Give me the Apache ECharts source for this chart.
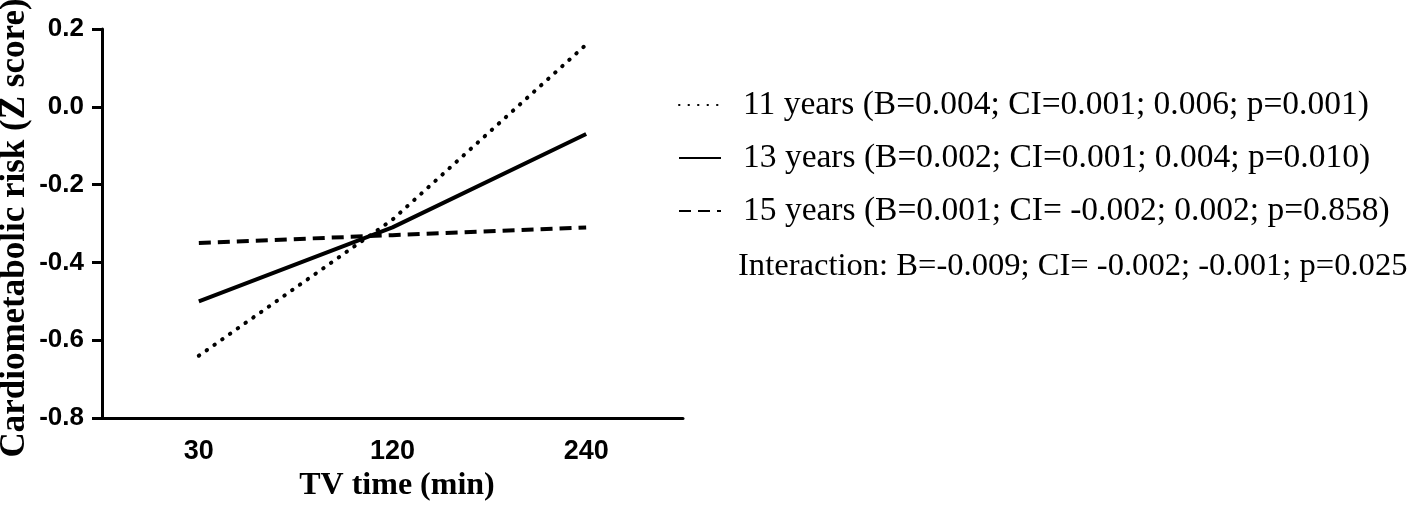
<!DOCTYPE html>
<html>
<head>
<meta charset="utf-8">
<script src="https://cdn.jsdelivr.net/npm/echarts@6/dist/echarts.min.js"></script>
<style>html,body{margin:0;padding:0;background:#fff;}#main{width:1418px;height:505px;}</style>
</head>
<body>
<div id="main"></div>
<script>
var categories = ['30', '120', '240'];
var years11 = [-0.64, -0.29, 0.16];
var years13 = [-0.50, -0.31, -0.07];
var years15 = [-0.35, -0.33, -0.31];
var seriesNames = [
  '11 years (B=0.004; CI=0.001; 0.006; p=0.001)',
  '13 years (B=0.002; CI=0.001; 0.004; p=0.010)',
  '15 years (B=0.001; CI= -0.002; 0.002; p=0.858)'
];
var interactionText = 'Interaction: B=-0.009; CI= -0.002; -0.001; p=0.025';
var yTicks = [-0.8, -0.6, -0.4, -0.2, 0.0, 0.2];

var chart = echarts.init(document.getElementById('main'));
var serif = 'Liberation Serif, Times New Roman, serif';
var sans = 'Liberation Sans, Arial, sans-serif';
chart.setOption({
  backgroundColor: '#fff',
  animation: false,
  grid: { left: 102, right: 735, top: 29, bottom: 87, containLabel: false, outerBoundsMode: 'none' },
  xAxis: {
    type: 'category',
    data: categories,
    boundaryGap: true,
    name: 'TV time (min)',
    nameLocation: 'middle',
    nameGap: 27,
    nameTextStyle: { fontFamily: serif, fontWeight: 'bold', fontSize: 32, color: '#000', padding: [0, 0, 0, 9] },
    axisLine: { onZero: false, lineStyle: { color: '#000', width: 3 } },
    axisTick: { alignWithLabel: true, length: 10, lineStyle: { color: '#000', width: 3 } },
    axisLabel: { margin: 20, fontFamily: sans, fontWeight: 'bold', fontSize: 27, color: '#000' },
    splitLine: { show: false }
  },
  yAxis: {
    type: 'value',
    min: yTicks[0],
    max: yTicks[yTicks.length - 1],
    interval: 0.2,
    name: 'Cardiometabolic risk (Z score)',
    nameLocation: 'middle',
    nameGap: 70,
    nameTextStyle: { fontFamily: serif, fontWeight: 'bold', fontSize: 35, color: '#000', padding: [0, 9, 0, 0] },
    axisLine: { show: true, lineStyle: { color: '#000', width: 3 } },
    axisTick: { show: true, length: 10, lineStyle: { color: '#000', width: 3 } },
    axisLabel: { margin: 18, fontFamily: sans, fontWeight: 'bold', fontSize: 26, color: '#000',
      formatter: function (v) { return v.toFixed(1); } },
    splitLine: { show: false }
  },
  legend: {
    orient: 'vertical',
    left: 673,
    top: 83,
    itemWidth: 42,
    itemHeight: 14,
    itemGap: 19,
    selectedMode: false,
    itemStyle: { opacity: 0 },
    textStyle: { fontFamily: serif, fontSize: 33.5, color: '#000', lineHeight: 33, padding: [0, 0, 0, 17] },
    data: seriesNames
  },
  graphic: [{
    type: 'text',
    left: 738,
    top: 250,
    style: { text: interactionText, font: '32.6px ' + serif, fill: '#000' }
  }],
  series: [
    { name: seriesNames[0], type: 'line', data: years11, symbol: 'none', showSymbol: false,
      lineStyle: { color: '#000', width: 4, type: [0.5, 9], cap: 'round' }, itemStyle: { color: '#000' } },
    { name: seriesNames[1], type: 'line', data: years13, symbol: 'none', showSymbol: false,
      lineStyle: { color: '#000', width: 4, type: 'solid' }, itemStyle: { color: '#000' } },
    { name: seriesNames[2], type: 'line', data: years15, symbol: 'none', showSymbol: false,
      lineStyle: { color: '#000', width: 4, type: [12, 7] }, itemStyle: { color: '#000' } }
  ]
});
</script>
</body>
</html>
